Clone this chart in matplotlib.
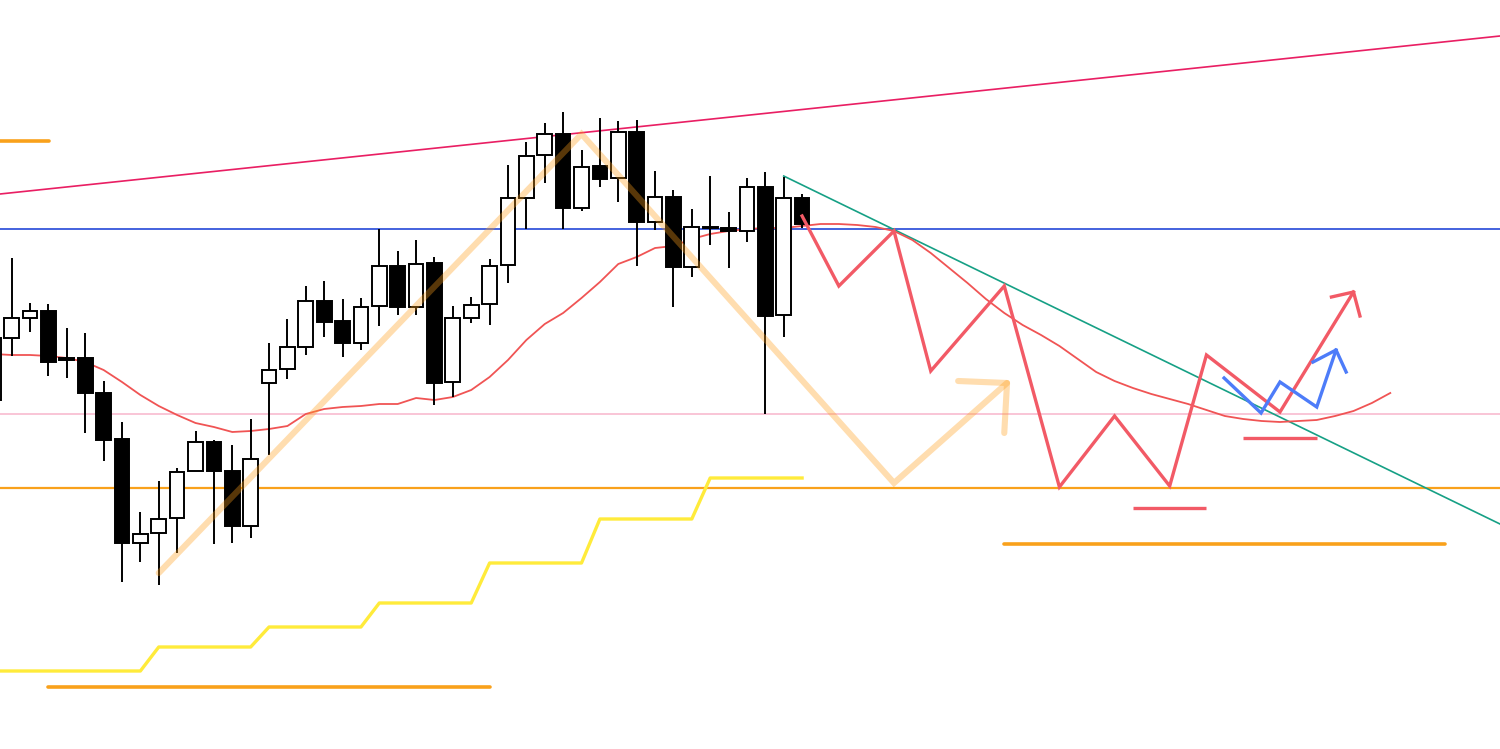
import numpy as np
import matplotlib
matplotlib.use("Agg")
import matplotlib.pyplot as plt

# ---------------------------------------------------------------------
# Price data (bar index, OHLC)
# ---------------------------------------------------------------------
bars = np.arange(-1, 44)
opens = [156.00, 156.62, 156.82, 156.89, 156.42, 156.42, 156.07, 155.61, 154.57, 154.67,
         154.82, 155.29, 155.58, 155.29, 154.74, 156.17, 156.31, 156.53, 156.99, 156.79,
         156.57, 156.94, 157.34, 156.93, 157.37, 156.18, 156.82, 156.96, 157.35, 158.02,
         158.45, 158.66, 157.92, 158.34, 158.22, 158.68, 157.78, 158.03, 157.33, 157.73,
         157.72, 157.69, 158.13, 156.85, 158.02]
highs = [156.62, 157.42, 156.97, 156.96, 156.72, 156.67, 156.19, 155.78, 154.88, 155.19,
         155.32, 155.69, 155.60, 155.55, 155.81, 156.57, 156.81, 157.14, 157.19, 157.01,
         157.02, 157.71, 157.49, 157.60, 157.43, 156.94, 157.03, 157.41, 158.35, 158.58,
         158.77, 158.88, 158.50, 158.82, 158.79, 158.80, 158.29, 158.10, 157.91, 158.24,
         157.88, 158.22, 158.28, 158.23, 158.06]
lows = [156.00, 156.44, 156.68, 156.24, 156.22, 155.67, 155.39, 154.18, 154.38, 154.15,
        154.47, 155.29, 154.56, 154.57, 154.62, 155.45, 156.21, 156.45, 156.63, 156.43,
        156.50, 156.74, 156.85, 156.85, 155.95, 156.03, 156.77, 156.75, 157.17, 157.71,
        158.17, 157.71, 157.89, 158.13, 157.98, 157.34, 157.70, 156.93, 157.23, 157.55,
        157.32, 157.58, 155.86, 156.63, 157.72]
closes = [156.62, 156.82, 156.89, 156.38, 156.40, 156.07, 155.60, 154.57, 154.66, 154.81,
          155.28, 155.58, 155.29, 154.74, 155.41, 156.30, 156.53, 156.99, 156.78, 156.57,
          156.93, 157.34, 156.93, 157.36, 156.17, 156.82, 156.95, 157.34, 158.02, 158.44,
          158.66, 157.92, 158.33, 158.21, 158.68, 157.78, 158.03, 157.33, 157.73, 157.72,
          157.69, 158.13, 156.84, 158.02, 157.76]

# moving average (runs on past the last bar)
ma_bars = np.arange(-1, 76)
ma_vals = [156.46, 156.45, 156.45, 156.44, 156.42, 156.38, 156.30, 156.18, 156.05, 155.94,
           155.85, 155.77, 155.73, 155.68, 155.69, 155.71, 155.74, 155.86, 155.91, 155.93,
           155.94, 155.96, 155.96, 156.02, 156.00, 156.03, 156.10, 156.23, 156.40, 156.60,
           156.76, 156.87, 157.02, 157.18, 157.36, 157.43, 157.52, 157.54, 157.61, 157.66,
           157.69, 157.71, 157.72, 157.72, 157.74, 157.76, 157.76, 157.75, 157.73, 157.69,
           157.60, 157.47, 157.32, 157.17, 157.01, 156.87, 156.75, 156.65, 156.54, 156.41,
           156.28, 156.19, 156.12, 156.06, 156.01, 155.96, 155.90, 155.84, 155.81, 155.79,
           155.78, 155.79, 155.80, 155.84, 155.89, 155.97, 156.07]

# higher timeframe low, stepping up
step_vals = [153.29] * 9 + [153.53] * 6 + [153.73] * 6 + [153.97] * 6 + \
            [154.37] * 6 + [154.81] * 6 + [155.22] * 6

# horizontal levels
level_blue = 157.71
level_pink = 155.86
level_orange = 155.12

# short orange zones: (start bar, end bar, price)
orange_zones = [(-0.64, 2.03, 158.59), (2, 26, 153.13), (54, 78, 154.56)]
red_zones = [(61, 65, 154.92), (67, 71, 155.62)]

# trend lines
upper_line = [(-0.64, 158.06), (80.97, 159.64)]
down_line = [(42, 158.24), (80.97, 154.76)]

# scenario paths
wave_main = [(8, 154.27), (31, 158.66), (48, 155.17), (54.15, 156.17)]
wave_main_head = [(51.49, 156.19), (54.15, 156.17), (54.0, 155.67)]
red_path = [(43, 157.84), (45, 157.14), (48, 157.69), (50, 156.29), (54, 157.14),
            (57, 155.13), (60, 155.84), (63, 155.14), (65, 156.45), (69, 155.88),
            (73, 157.08)]
red_head = [(71.8, 157.03), (73, 157.08), (73.35, 156.84)]
blue_path = [(65.96, 156.22), (67.97, 155.87), (69.0, 156.18), (71.0, 155.93),
             (72.05, 156.50)]
blue_head = [(70.8, 156.38), (72.05, 156.50), (72.6, 156.28)]


def xy(points):
    xs, ys = zip(*points)
    return xs, ys


fig = plt.figure(figsize=(15, 7.49), dpi=100)
ax = fig.add_axes([0, 0, 1, 1])
ax.set_xlim(-0.637, 80.97)
ax.set_ylim(152.51, 160.0)
ax.axis("off")

# levels
ax.axhline(level_blue, color="#2448d8", lw=1.2, zorder=1)
ax.axhline(level_pink, color="#f8bbd0", lw=1.2, zorder=1)
ax.axhline(level_orange, color="#f9a11b", lw=1.6, zorder=1)

for x0, x1, p in orange_zones:
    ax.plot([x0, x1], [p, p], color="#f9a11b", lw=2.6, solid_capstyle="round", zorder=2)
for x0, x1, p in red_zones:
    ax.plot([x0, x1], [p, p], color="#f25a66", lw=2.4, solid_capstyle="butt", zorder=2)

ax.plot(*xy(upper_line), color="#e91e63", lw=1.2, zorder=2)
ax.plot(*xy(down_line), color="#16a085", lw=1.2, zorder=2)

ax.plot(bars, step_vals, color="#ffeb3b", lw=2.4, zorder=2)
ax.plot(ma_bars, ma_vals, color="#f05454", lw=1.3, zorder=3)

# candles
o = np.array(opens)
c = np.array(closes)
up = c >= o
ax.vlines(bars, lows, highs, color="black", lw=1.4, zorder=4)
ax.bar(bars[up], (c - o)[up], bottom=o[up], width=0.8, color="white",
       edgecolor="black", linewidth=1.4, zorder=5)
ax.bar(bars[~up], (o - c)[~up], bottom=c[~up], width=0.8, color="black",
       edgecolor="black", linewidth=1.4, zorder=5)

# scenario drawings
ax.plot(*xy(wave_main), color="#ff9f1a", alpha=0.35, lw=4.4,
        solid_capstyle="round", solid_joinstyle="miter", zorder=6)
ax.plot(*xy(wave_main_head), color="#ff9f1a", alpha=0.35, lw=4.4,
        solid_capstyle="round", zorder=6)

ax.plot(*xy(red_path), color="#f25a66", lw=2.4, solid_joinstyle="miter", zorder=7)
ax.plot(*xy(red_head), color="#f25a66", lw=2.4, zorder=7)
ax.plot(*xy(blue_path), color="#4d7cf9", lw=2.4, solid_joinstyle="miter", zorder=7)
ax.plot(*xy(blue_head), color="#4d7cf9", lw=2.4, zorder=7)

fig.savefig("out.png", dpi=100, facecolor="white")
